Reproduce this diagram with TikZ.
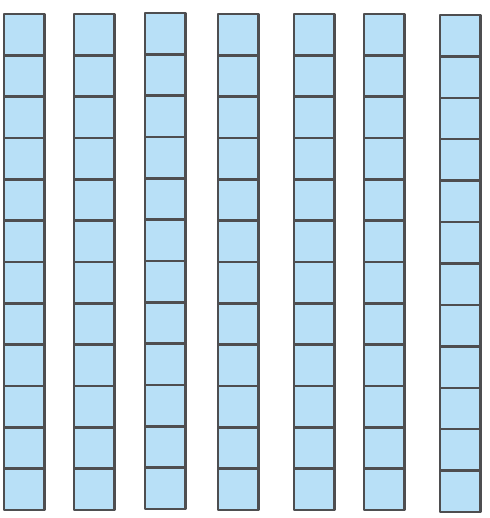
\documentclass[tikz,border=0pt]{standalone}
\usepackage{xcolor}
\definecolor{cellblue}{RGB}{184,224,247}
\definecolor{celledge}{RGB}{78,78,80}

\begin{document}
\begin{tikzpicture}[
            x=0.02cm,
            y=-0.02cm,
            line join=round,
            cell/.style={draw=celledge, line width=1.4pt, fill=cellblue}
        ]

    \useasboundingbox (0,0) rectangle (490,518);

    % Seven columns of twelve unit squares (left edge / top / bottom)
    \foreach \xl/\ya/\yb in {4/14/510, 74/14/510, 145/13/509, 218/14/510,
                             294/14/510, 364/14/510, 440/15/512} {
        \pgfmathsetmacro{\h}{(\yb-\ya)/12}
        \foreach \k in {0,...,11}
            \draw[cell] (\xl,{\ya+\k*\h}) rectangle ++(40.5,\h);
    }

\end{tikzpicture}
\end{document}
